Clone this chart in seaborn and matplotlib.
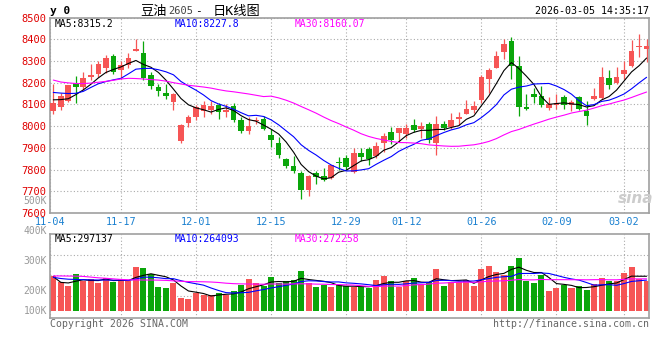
import numpy as np
import pandas as pd
import matplotlib
matplotlib.use("Agg")
import matplotlib.pyplot as plt
import seaborn as sns

# daily K data (80 trading days, 11-04 .. 03-05)
opens = [8068, 8088, 8116, 8200, 8180, 8226, 8238, 8269, 8325, 8260,
         8281, 8345, 8336, 8234, 8179, 8153, 8111, 7933, 8015, 8043,
         8070, 8073, 8096, 8063, 8093, 8030, 7977, 8024, 8032, 7959,
         7923, 7848, 7816, 7784, 7706, 7783, 7770, 7760, 7836, 7852,
         7790, 7877, 7896, 7862, 7923, 7972, 7966, 7963, 8004, 7989,
         8009, 7923, 8012, 7997, 8035, 8055, 8073, 8119, 8215, 8267,
         8341, 8390, 8276, 8088, 8146, 8139, 8084, 8096, 8134, 8096,
         8134, 8068, 8124, 8130, 8221, 8200, 8238, 8276, 8364, 8353]
closes = [8107, 8137, 8188, 8180, 8223, 8235, 8284, 8313, 8249, 8281,
          8315, 8353, 8221, 8185, 8160, 8139, 8146, 8005, 8040, 8090,
          8096, 8092, 8066, 8076, 8030, 7977, 8000, 8030, 7986, 7936,
          7867, 7816, 7793, 7706, 7770, 7764, 7752, 7821, 7832, 7813,
          7874, 7859, 7850, 7908, 7954, 7935, 7992, 7992, 7984, 8000,
          7935, 8012, 7992, 8030, 8042, 8081, 8091, 8226, 8257, 8325,
          8379, 8276, 8088, 8081, 8134, 8096, 8101, 8108, 8096, 8111,
          8078, 8047, 8139, 8226, 8191, 8226, 8257, 8348, 8368, 8368]
highs = [8195, 8154, 8190, 8229, 8249, 8284, 8299, 8328, 8330, 8299,
         8336, 8399, 8390, 8249, 8195, 8195, 8153, 8012, 8051, 8096,
         8115, 8115, 8108, 8104, 8108, 8043, 8043, 8043, 8046, 7985,
         7951, 7851, 7862, 7793, 7775, 7793, 7806, 7821, 7859, 7867,
         7897, 7897, 7902, 7928, 7966, 7997, 7992, 8012, 8035, 8020,
         8020, 8046, 8023, 8062, 8065, 8119, 8116, 8234, 8267, 8344,
         8402, 8409, 8325, 8150, 8176, 8185, 8134, 8150, 8142, 8119,
         8139, 8114, 8176, 8272, 8257, 8272, 8302, 8397, 8422, 8402]
lows = [8058, 8076, 8111, 8107, 8168, 8211, 8226, 8244, 8241, 8218,
        8269, 8345, 8211, 8169, 8137, 8127, 8076, 7923, 7994, 8030,
        8043, 8055, 8032, 8043, 8017, 7966, 7963, 8012, 7982, 7902,
        7852, 7806, 7786, 7665, 7676, 7734, 7749, 7755, 7798, 7798,
        7783, 7841, 7821, 7851, 7882, 7917, 7928, 7943, 7974, 7943,
        7920, 7867, 7981, 7989, 8004, 8055, 8061, 8107, 8153, 8267,
        8310, 8218, 8047, 8073, 8108, 8090, 8073, 8081, 8081, 8068,
        8073, 8007, 8119, 8124, 8172, 8195, 8218, 8272, 8318, 8295]
# volume in thousands of lots
volumes = [300, 248, 214, 317, 257, 271, 243, 282, 248, 271,
           260, 377, 368, 317, 205, 197, 240, 111, 103, 154,
           140, 134, 154, 134, 171, 220, 274, 240, 214, 291,
           243, 257, 265, 342, 240, 205, 220, 205, 220, 211,
           205, 205, 197, 268, 302, 257, 205, 257, 282, 234,
           248, 359, 214, 245, 245, 265, 217, 359, 388, 334,
           311, 388, 454, 254, 240, 311, 171, 197, 220, 197,
           214, 177, 231, 282, 254, 254, 325, 377, 277, 254]

# moving averages at the left edge (history before the first visible day)
ma5_head = [8121, 8122, 8126, 8145]
ma10_head = [8155, 8152, 8150, 8151, 8160, 8178, 8195, 8205, 8213]
ma30_head = [8212, 8203, 8199, 8196, 8196, 8198, 8202, 8206, 8211, 8217,
             8220, 8219, 8217, 8214, 8212, 8207, 8200, 8194, 8188, 8184,
             8180, 8175, 8168, 8162, 8158, 8153, 8148, 8142, 8136]
vma5_head = [294, 245, 240, 255]
vma10_head = [288, 278, 272, 270, 268, 266, 265, 265, 264]
vma30_head = [300, 300, 299, 298, 296, 290, 284, 280, 275, 270,
              267, 266, 265, 265, 264, 262, 258, 254, 252, 251,
              250, 248, 244, 238, 234, 232, 231, 230, 229]

dates = ['11-04', '11-17', '12-01', '12-15', '12-29', '01-12', '01-26', '02-09', '03-02']
date_idx = [0, 9, 19, 29, 39, 47, 57, 67, 76]
price_ticks = [7600, 7700, 7800, 7900, 8000, 8100, 8200, 8300, 8400, 8500]
price_legend = ['MA5:8315.2', 'MA10:8227.8', 'MA30:8160.07']
vol_legend = ['MA5:297137', 'MA10:264093', 'MA30:272258']
vol_labels = ['500K', '400K', '300K', '200K', '100K']


def moving(values, n, head):
    s = pd.Series(values, dtype=float).rolling(n).mean()
    s.iloc[:len(head)] = head
    return s.values


sns.set_style('white')
plt.rcParams['font.family'] = ['DejaVu Sans Mono', 'Noto Sans CJK SC']

RED = '#f65555'
GREEN = '#0aa60a'
GRID = '#aaaaaa'
W, H = 660, 360

fig = plt.figure(figsize=(6.6, 3.6), dpi=100)
ax = fig.add_axes([50 / W, 1 - 213 / H, 599.3 / W, 195.5 / H])
axv = fig.add_axes([50 / W, 1 - 318 / H, 599.3 / W, 84 / H])

x = np.arange(len(closes))
o = np.array(opens)
c = np.array(closes)
up = c >= o
colors = np.where(up, RED, GREEN)

# candles
ax.vlines(x, lows, highs, colors=colors, lw=0.9, zorder=2)
body_lo = np.minimum(o, c)
body_h = np.maximum(np.abs(c - o), 4)
ax.bar(x, body_h, bottom=body_lo, width=0.76, color=colors, zorder=3, linewidth=0)

sns.lineplot(x=x, y=moving(closes, 5, ma5_head), ax=ax, color='black', lw=0.8, zorder=4)
sns.lineplot(x=x, y=moving(closes, 10, ma10_head), ax=ax, color='#0000ff', lw=0.8, zorder=4)
sns.lineplot(x=x, y=moving(closes, 30, ma30_head), ax=ax, color='#ff00ff', lw=0.8, zorder=4)

# volume
axv.bar(x, volumes, width=0.8, color=colors, linewidth=0, zorder=2)
sns.lineplot(x=x, y=moving(volumes, 5, vma5_head), ax=axv, color='black', lw=0.8, zorder=4)
sns.lineplot(x=x, y=moving(volumes, 10, vma10_head), ax=axv, color='#0000ff', lw=0.8, zorder=4)
sns.lineplot(x=x, y=moving(volumes, 30, vma30_head), ax=axv, color='#ff00ff', lw=0.8, zorder=4)

xlim = (-0.44, 79.36)
tick_pos = [xlim[0] + 0.05] + date_idx[1:]
for a in (ax, axv):
    a.set_xlim(*xlim)
    a.set_xticks(tick_pos)
    a.grid(True, color=GRID, linestyle=(0, (1, 2)), lw=0.8)
    a.set_axisbelow(True)
    for sp in a.spines.values():
        sp.set_color('#a0a0a0')
        sp.set_linewidth(1.2)
    a.set_xlabel('')
    a.set_ylabel('')

ax.set_ylim(7600, 8500)
ax.set_yticks(price_ticks)
ax.set_yticklabels([str(t) for t in price_ticks], color='#e00000', fontsize=7.5)
ax.set_xticklabels(dates, color='#1a80d0', fontsize=7.3)
ax.tick_params(axis='both', length=0)
ax.tick_params(axis='y', pad=2.5)
ax.tick_params(axis='x', pad=3.0)

axv.set_ylim(-60, 659)
axv.set_yticks([128, 308, 479])
axv.set_yticklabels([])
axv.set_xticklabels([])
axv.tick_params(axis='both', length=0)

# volume axis labels as Sina places them
for lab, py in zip(vol_labels, [201.5, 231, 261, 291, 310.5]):
    fig.text(47 / W, 1 - py / H, lab, color='#999999', fontsize=7, ha='right', va='center')

# legends
for txt, px, col in zip(price_legend, [55, 175, 295], ['black', '#0000ff', '#ff00ff']):
    fig.text(px / W, 1 - 24 / H, txt, color=col, fontsize=7, ha='left', va='center')
for txt, px, col in zip(vol_legend, [55, 175, 295], ['black', '#0000ff', '#ff00ff']):
    fig.text(px / W, 1 - 239 / H, txt, color=col, fontsize=7, ha='left', va='center')

# header
fig.text(50 / W, 1 - 11 / H, 'y 0', color='black', fontsize=8, fontweight='bold', ha='left', va='center')
fig.text(140 / W, 1 - 11 / H, '豆油', color='black', fontsize=9.5, ha='left', va='center')
fig.text(168 / W, 1 - 11.5 / H, '2605', color='#444444', fontsize=7.5, ha='left', va='center')
fig.text(195 / W, 1 - 11 / H, '-', color='black', fontsize=8, ha='left', va='center')
fig.text(213 / W, 1 - 11 / H, '日K线图', color='black', fontsize=9.5, ha='left', va='center')
fig.text(649 / W, 1 - 11 / H, '2026-03-05 14:35:17', color='black', fontsize=7.2, ha='right', va='center')

# footer
fig.text(50 / W, 1 - 324 / H, 'Copyright 2026 SINA.COM', color='#666666', fontsize=7.1, ha='left', va='center')
fig.text(649 / W, 1 - 324 / H, 'http://finance.sina.com.cn', color='#666666', fontsize=7.1, ha='right', va='center')

# watermark
fig.text(636 / W, 1 - 198 / H, 'sina', color='#cccccc', fontsize=11, fontweight='bold',
         fontstyle='italic', family='DejaVu Sans', ha='center', va='center')

fig.savefig('out.png', dpi=100, facecolor='white')
